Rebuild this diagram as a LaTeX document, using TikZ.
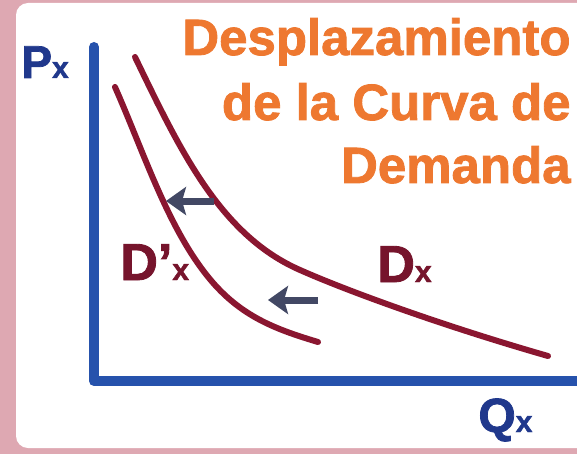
\documentclass[tikz,border=0pt]{standalone}
\usepackage{fontspec}
\setmainfont{Liberation Sans}
\newfontfamily\heavyfont{Liberation Sans Bold}[FakeBold=1.6]
\usetikzlibrary{arrows.meta}
\usepackage{xcolor}
\definecolor{SlidePink}{RGB}{222,168,178}
\definecolor{AxisBlue}{RGB}{38,82,172}
\definecolor{LabelBlue}{RGB}{32,56,140}
\definecolor{CurveRed}{RGB}{138,22,48}
\definecolor{LabelRed}{RGB}{118,20,44}
\definecolor{TitleOrange}{RGB}{238,120,48}
\definecolor{ArrowSlate}{RGB}{66,72,100}
\newcommand{\lowx}{{\fontsize{15}{15}\selectfont x}}
\tikzset{
  axis/.style={draw=AxisBlue, line width=5pt, line cap=round, line join=round},
  demand/.style={draw=CurveRed, line width=3pt, line cap=round},
  shiftarrow/.style={draw=ArrowSlate, line width=3.5pt,
    -{Stealth[length=10pt,width=14pt,inset=2pt]}},
  axislabel/.style={text=LabelBlue, anchor=base west, inner sep=0pt,
    font=\heavyfont\fontsize{23}{26}\selectfont},
  curvelabel/.style={text=LabelRed, anchor=base west, inner sep=0pt,
    font=\heavyfont\fontsize{26}{30}\selectfont},
  titleline/.style={text=TitleOrange, anchor=base east, inner sep=0pt,
    font=\heavyfont\fontsize{25.5}{30}\selectfont}
}

\begin{document}
\begin{tikzpicture}[x=0.5pt,y=-0.5pt]
  \useasboundingbox (0,0) rectangle (577,454);
  % slide background
  \fill[SlidePink] (0,0) rectangle (577,454);
  \fill[white, rounded corners=6pt] (16,3) rectangle (620,448);

  % title
  \node[titleline] (title1) at (571,55) {Desplazamiento};
  \node[titleline] (title2) at (571,120) {de la Curva de};
  \node[titleline] (title3) at (571,183) {Demanda};

  % axes
  \draw[axis] (94,47) -- (94,381) -- (600,381);
  \node[axislabel] (px) at (21,78) {P\lowx};
  \node[axislabel,font=\heavyfont\fontsize{24}{28}\selectfont] (qx) at (478,432) {Q\lowx};

  % demand curves
  \draw[demand] (135,57) .. controls (180,150) and (220,235) .. (300,270)
    .. controls (345,290) and (440,325) .. (548,356);
  \draw[demand] (115,87) .. controls (145,155) and (170,235) .. (215,285)
    .. controls (245,318) and (278,330) .. (318,342);
  \node[curvelabel] (dprime) at (120,280) {D’\lowx};
  \node[curvelabel] (dx) at (377,282) {D\lowx};

  % shift to the left
  \coordinate (upperTail) at (214,201);
  \coordinate (upperTip) at (166,201);
  \coordinate (lowerTail) at (318,300);
  \coordinate (lowerTip) at (268,300);
  \draw[shiftarrow] (upperTail) -- (upperTip);
  \draw[shiftarrow] (lowerTail) -- (lowerTip);
\end{tikzpicture}
\end{document}
